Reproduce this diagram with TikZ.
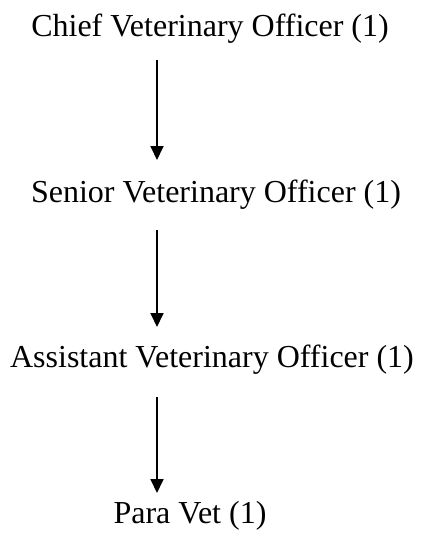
\documentclass[tikz,border=0pt]{standalone}
\usepackage{fontspec}
\setmainfont{Liberation Serif}
\usetikzlibrary{arrows.meta,calc}
\begin{document}
\begin{tikzpicture}[x=1pt,y=-1pt,
  lbl/.style={anchor=base,inner sep=0pt,font=\fontsize{32}{38}\selectfont},
  arr/.style={line width=1.8pt,-{Triangle[width=13pt,length=14pt]}}]
\useasboundingbox[fill=white] (0,0) rectangle (425,539);
\coordinate (col) at (157,0);
\node[lbl] (chief) at (210,36) {Chief Veterinary Officer (1)};
\node[lbl] (senior) at (216,202) {Senior Veterinary Officer (1)};
\node[lbl] (assist) at (212,367) {Assistant Veterinary Officer (1)};
\node[lbl] (para) at (190,523) {Para Vet (1)};
\draw[arr] ($(chief.base -| col)+(0,24)$) -- ($(senior.base -| col)+(0,-42)$);
\draw[arr] ($(senior.base -| col)+(0,28)$) -- ($(assist.base -| col)+(0,-40)$);
\draw[arr] ($(assist.base -| col)+(0,30)$) -- ($(para.base -| col)+(0,-30)$);
\end{tikzpicture}
\end{document}
